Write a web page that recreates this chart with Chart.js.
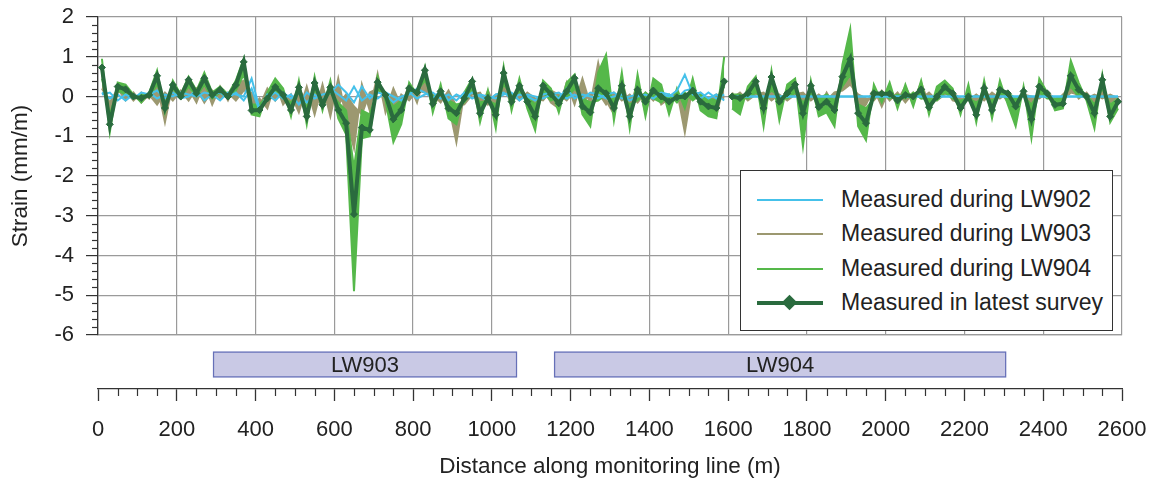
<!DOCTYPE html>
<html>
<head>
<meta charset="utf-8">
<script src="https://cdn.jsdelivr.net/npm/chart.js@4.4.1/dist/chart.umd.min.js"></script>
<style>
  body { margin: 0; background: #fff; }
  #wrap { position: relative; width: 1153px; height: 480px; font-family: "Liberation Sans", Arial, sans-serif; color: #222; }
  #main { position: absolute; left: 0; top: 0; }
  #panels { position: absolute; left: 0; top: 340px; }
  #legend { position: absolute; left: 740px; top: 170px; width: 373px; height: 161px; border: 1.5px solid #333; background: #fff; box-sizing: border-box; }
  .row { position: absolute; left: 0; width: 100%; height: 0; }
  .swatch { position: absolute; left: 16px; width: 66px; }
  .diamond { position: absolute; left: 43px; top: -6px; width: 11px; height: 11px; transform: rotate(45deg); }
  .txt { position: absolute; left: 100px; top: -15px; font-size: 23px; line-height: 28px; white-space: nowrap; }
</style>
</head>
<body>
<div id="wrap">
  <canvas id="main" width="1153" height="350"></canvas>
  <canvas id="panels" width="1153" height="140"></canvas>
  <div id="legend"></div>
</div>
<script>
// survey stations (m) - break between the two monitoring line sections at 1600
const distances = [10,30,50,70,90,110,130,150,170,190,210,230,250,270,290,310,330,350,370,390,
  410,430,450,470,490,510,530,550,570,590,610,630,650,670,690,710,730,750,770,790,
  810,830,850,870,890,910,930,950,970,990,1010,1030,1050,1070,1090,1110,1130,1150,1170,1190,
  1210,1230,1250,1270,1290,1310,1330,1350,1370,1390,1410,1430,1450,1470,1490,1510,1530,1550,1570,1590,
  1600,1610,1630,1650,1670,1690,1710,1730,1750,1770,1790,1810,1830,1850,1870,1890,1910,1930,1950,1970,
  1990,2010,2030,2050,2070,2090,2110,2130,2150,2170,2190,2210,2230,2250,2270,2290,2310,2330,2350,2370,
  2390,2410,2430,2450,2470,2490,2510,2530,2550,2570,2590];

// strain (mm/m)
const latest = [0.73,-0.70,0.25,0.18,0.00,-0.04,0.04,0.52,-0.29,0.29,
  0.00,0.42,0.08,0.46,0.04,0.17,0.00,0.29,0.87,-0.35,
  -0.34,-0.05,0.24,0.04,-0.34,0.23,-0.50,0.34,-0.21,0.23,
  -0.34,-0.67,-2.96,-0.78,-0.84,0.36,0.04,-0.57,-0.34,0.21,
  0.10,0.66,-0.18,0.13,-0.30,-0.42,-0.05,0.38,-0.42,-0.04,
  -0.46,0.59,-0.13,0.27,-0.13,-0.50,0.27,0.06,-0.17,0.13,
  0.46,-0.25,-0.40,0.21,0.08,-0.29,0.27,-0.50,0.17,-0.13,
  0.15,0.00,-0.13,-0.02,0.00,0.15,-0.13,-0.25,-0.29,0.38,
  null,0.00,-0.04,0.08,0.38,-0.29,0.49,-0.13,0.08,0.30,
  -0.42,0.27,-0.27,-0.13,-0.34,0.50,0.94,-0.42,-0.67,0.08,
  0.07,0.07,-0.10,0.04,0.00,0.18,-0.27,0.00,0.24,0.08,
  -0.29,0.00,-0.46,0.21,-0.34,0.17,0.08,-0.25,0.13,-0.57,
  0.25,0.08,-0.21,-0.18,0.52,0.17,0.00,-0.42,0.42,-0.50,
  -0.13];

const lw904a = [0.95,-0.90,0.35,0.30,0.05,-0.15,0.10,0.65,-0.40,0.40,
  0.05,0.50,0.15,0.60,0.10,0.25,0.05,0.40,0.95,-0.45,
  -0.50,0.10,0.45,0.20,-0.50,0.40,-0.70,0.50,-0.35,0.40,
  -0.55,-0.95,-4.90,-1.05,-1.00,0.50,-0.10,-1.15,-0.70,0.35,
  0.05,0.75,-0.40,0.30,-0.55,-0.70,0.10,0.45,-0.65,0.15,
  -0.80,0.75,-0.35,0.45,-0.30,-0.85,0.40,0.20,-0.40,0.35,
  0.55,-0.45,-0.75,0.60,1.05,-0.60,0.60,-0.80,0.55,-0.50,
  0.45,0.30,-0.45,0.20,-0.30,0.45,-0.35,-0.50,-0.55,1.00,
  null,-0.30,-0.45,0.25,0.50,-0.75,0.65,-0.60,0.30,0.45,
  -1.25,0.40,-0.50,-0.40,-0.75,0.80,1.70,-0.75,-1.10,0.30,
  -0.15,0.35,-0.30,0.30,-0.25,0.40,-0.45,0.25,0.40,0.20,
  -0.45,0.30,-0.65,0.40,-0.55,0.40,-0.20,-0.75,0.25,-1.05,
  0.45,0.10,-0.35,-0.30,0.90,0.35,-0.10,-0.80,0.55,-0.65,
  -0.30];

const lw904b = [0.45,-0.45,0.15,0.05,-0.05,0.05,0.00,0.30,-0.15,0.20,
  -0.05,0.25,0.00,0.30,-0.05,0.10,-0.05,0.15,0.55,-0.20,
  -0.20,0.00,0.10,-0.05,-0.15,0.10,-0.25,0.15,-0.10,0.10,
  -0.15,-0.35,-1.80,-0.35,-0.45,0.15,0.10,-0.25,-0.10,0.10,
  0.15,0.40,0.00,0.05,-0.10,-0.20,-0.15,0.15,-0.15,-0.10,
  -0.20,0.30,0.05,0.10,0.00,-0.20,0.10,-0.10,0.00,-0.05,
  0.20,-0.05,-0.15,-0.10,0.05,-0.05,0.00,-0.20,-0.10,0.10,
  -0.05,-0.15,0.05,-0.15,0.10,-0.10,0.05,-0.05,-0.10,0.25,
  null,0.05,0.05,-0.05,0.10,-0.05,0.15,0.00,-0.05,0.10,
  -0.15,0.05,-0.05,0.05,-0.10,0.25,0.55,-0.20,-0.30,-0.05,
  0.10,-0.05,0.05,-0.05,0.10,-0.05,-0.05,-0.10,0.10,-0.05,
  -0.10,-0.05,-0.15,0.00,-0.10,0.05,0.10,-0.05,0.00,-0.20,
  0.10,-0.05,-0.05,0.00,0.25,0.00,0.05,-0.20,0.20,-0.20,
  -0.05];

const lw903a = [0.55,-0.45,0.10,0.15,-0.10,0.10,-0.05,0.30,-0.65,0.35,
  0.05,0.20,-0.15,0.35,-0.20,0.25,-0.10,0.30,0.40,-0.25,
  -0.05,-0.30,0.35,-0.20,0.05,-0.40,0.25,-0.45,0.30,-0.50,
  0.45,-0.55,-1.30,0.30,-0.35,0.57,-0.40,0.20,-0.25,0.30,
  -0.15,0.55,-0.30,0.10,-0.20,-1.15,0.10,0.25,-0.35,0.15,
  -0.30,0.35,-0.25,0.30,-0.10,-0.40,0.20,-0.15,-0.30,0.35,
  -0.20,0.45,-0.20,0.84,-0.10,-0.45,0.40,-0.30,0.35,-0.40,
  0.30,-0.20,-0.05,0.15,-0.90,0.30,-0.20,-0.35,-0.50,0.35,
  null,0.10,-0.20,0.15,0.30,-0.15,0.25,-0.20,0.20,0.15,
  -0.20,0.20,-0.30,0.10,-0.25,0.55,0.60,-0.45,-0.20,0.20,
  -0.25,0.20,-0.10,0.25,-0.15,0.35,-0.20,0.10,0.25,-0.10,
  -0.15,0.10,-0.25,0.20,-0.10,0.15,-0.15,-0.10,0.10,-0.25,
  0.10,0.05,-0.15,0.05,0.25,-0.05,0.10,-0.15,0.20,-0.15,
  0.00];

const lw903b = [0.20,-0.15,0.20,-0.10,0.10,-0.15,0.05,-0.20,0.10,-0.10,
  0.15,-0.10,0.20,-0.15,0.15,-0.05,0.10,-0.10,0.15,0.10,
  -0.25,0.20,-0.10,0.15,-0.25,0.20,-0.15,0.10,-0.30,0.15,
  -0.20,0.05,-0.25,-0.45,0.10,0.20,0.10,-0.40,0.05,-0.10,
  0.15,0.10,0.05,-0.15,0.15,-0.25,-0.20,0.05,0.10,-0.20,
  0.05,0.10,0.05,-0.10,0.10,-0.05,-0.10,0.15,0.05,-0.10,
  0.15,-0.15,0.05,0.10,-0.20,0.10,-0.10,0.05,-0.15,0.10,
  -0.10,0.15,-0.10,0.05,-0.10,0.05,0.10,-0.10,0.05,-0.05,
  null,-0.05,0.10,-0.10,0.05,0.10,-0.10,0.05,-0.10,0.05,
  0.10,-0.10,0.05,-0.10,0.10,0.15,0.30,0.05,-0.05,-0.10,
  0.15,-0.10,0.10,-0.15,0.10,-0.05,0.10,-0.10,0.05,0.10,
  -0.05,-0.10,0.05,-0.10,0.10,-0.05,0.10,-0.10,0.05,0.00,
  -0.05,0.10,-0.05,-0.10,0.10,0.05,-0.05,0.05,-0.05,0.05,
  -0.05];

const lw902a = [0.10,-0.05,0.05,-0.10,0.05,-0.05,0.10,-0.05,0.05,0.00,
  0.10,0.05,0.00,0.10,0.05,-0.10,0.10,0.05,0.00,0.45,
  -0.30,-0.05,0.10,-0.05,0.05,-0.20,0.10,-0.05,0.05,0.10,
  0.30,0.10,-0.15,0.25,-0.05,0.10,0.05,-0.15,0.00,0.05,
  0.20,0.10,-0.05,0.15,-0.10,0.05,-0.05,0.10,0.00,-0.10,
  0.05,0.10,-0.05,0.05,0.00,-0.10,0.05,0.10,-0.05,0.20,
  -0.05,0.05,0.00,-0.05,0.05,0.10,-0.05,0.00,0.05,-0.10,
  0.10,0.05,0.00,0.15,0.55,0.05,0.10,-0.05,0.05,-0.10,
  null,0,0,0,0,0,0,0,0,0,
  0,0,0,0,0,0,0,0,0,0,
  0,0,0,0,0,0,0,0,0,0,
  0,0,0,0,0,0,0,0,0,0,
  0,0,0,0,0,0,0,0,0,0,
  0];

const lw902b = [0.05,0.10,-0.10,0.05,-0.05,0.10,0.05,0.15,-0.05,0.10,
  -0.05,0.00,0.15,-0.10,0.05,0.10,-0.05,0.10,-0.10,0.20,
  -0.35,0.05,-0.10,0.10,-0.05,0.10,-0.15,0.05,-0.10,0.20,
  0.05,-0.10,0.25,-0.10,0.05,-0.05,0.10,0.00,-0.10,0.10,
  -0.05,0.05,0.10,-0.05,0.05,-0.10,0.10,-0.05,0.05,0.00,
  -0.05,0.05,0.10,-0.10,0.05,0.00,-0.05,0.05,0.10,-0.05,
  0.05,-0.05,0.10,0.05,-0.05,0.00,0.05,-0.10,0.00,0.05,
  -0.05,0.10,0.05,-0.05,0.15,0.20,-0.05,0.10,-0.05,0.05,
  null,0,0,0,0,0,0,0,0,0,
  0,0,0,0,0,0,0,0,0,0,
  0,0,0,0,0,0,0,0,0,0,
  0,0,0,0,0,0,0,0,0,0,
  0,0,0,0,0,0,0,0,0,0,
  0];

// longwall panels (m along line)
const panelNames = ['LW903', 'LW904'];
const panelStart = [292, 1158];
const panelEnd = [1064, 2306];

const legendLabels = ['Measured during LW902', 'Measured during LW903', 'Measured during LW904', 'Measured in latest survey'];

const c902 = '#45c1ea';
const c903 = '#9c9870';
const c904 = '#55b84a';
const cLatest = '#2a6b3e';
const textColor = '#222';

Chart.defaults.font.family = '"Liberation Sans", Arial, sans-serif';
Chart.defaults.color = textColor;

const mk = vals => distances.map((d, i) => ({ x: d, y: vals[i] }));
const thin = (label, vals, color, fill) => ({
  label: label, data: mk(vals), borderColor: color, backgroundColor: color,
  borderWidth: 2, pointRadius: 0, fill: fill || false, tension: 0
});

// minor ticks on the strain axis
const yMinorTicks = {
  id: 'yMinorTicks',
  afterDraw(chart) {
    const s = chart.scales.y, ctx = chart.ctx;
    ctx.save();
    ctx.strokeStyle = '#333';
    ctx.lineWidth = 1.2;
    for (let i = 0; i <= 40; i++) {
      if (i % 5 === 0) continue;
      const py = Math.round(s.getPixelForValue(-6 + i * 0.2)) + 0.5;
      ctx.beginPath();
      ctx.moveTo(s.right - 6, py);
      ctx.lineTo(s.right, py);
      ctx.stroke();
    }
    ctx.restore();
  }
};

new Chart(document.getElementById('main'), {
  type: 'line',
  data: {
    datasets: [
      {
        label: legendLabels[3], data: mk(latest), borderColor: cLatest, backgroundColor: cLatest,
        borderWidth: 4, pointStyle: 'rectRot', pointRadius: 3.5, pointBorderWidth: 1,
        pointBackgroundColor: cLatest, pointBorderColor: cLatest, tension: 0
      },
      thin('LW902 survey A', lw902a, c902),
      thin('LW902 survey B', lw902b, c902),
      thin('LW904 survey A', lw904a, c904),
      thin('LW904 survey B', lw904b, c904, '-1'),
      thin('LW903 survey A', lw903a, c903),
      thin('LW903 survey B', lw903b, c903, '-1')
    ]
  },
  options: {
    responsive: false,
    animation: false,
    devicePixelRatio: 1,
    layout: { padding: { top: 17, right: 31, bottom: 15, left: 0 } },
    plugins: { legend: { display: false }, tooltip: { enabled: false } },
    scales: {
      x: {
        type: 'linear', min: 0, max: 2600,
        afterFit: s => { s.height = 0; s.paddingLeft = 0; s.paddingRight = 0; },
        ticks: { display: false, stepSize: 200 },
        grid: { color: '#9a9a9a', lineWidth: 1.2, drawTicks: false },
        border: { color: '#9a9a9a', width: 1.2 }
      },
      y: {
        min: -6, max: 2,
        afterFit: s => { s.width = 98; s.paddingTop = 0; s.paddingBottom = 0; },
        ticks: { stepSize: 1, padding: 12, font: { size: 22 }, color: textColor },
        grid: { color: '#9a9a9a', lineWidth: 1.2, tickLength: 12, tickColor: '#333', tickWidth: 1.2 },
        border: { color: '#333', width: 1.3 },
        title: { display: true, text: 'Strain (mm/m)', font: { size: 22.5 }, color: textColor, padding: { top: 7, bottom: 0 } }
      }
    }
  },
  plugins: [yMinorTicks]
});

// minor ticks + panel names for the lower chart
const panelExtras = {
  id: 'panelExtras',
  afterDraw(chart) {
    const s = chart.scales.x, ctx = chart.ctx;
    ctx.save();
    ctx.strokeStyle = '#333';
    ctx.lineWidth = 1.2;
    for (let i = 0; i <= 52; i++) {
      if (i % 4 === 0) continue;
      const px = Math.round(s.getPixelForValue(i * 50)) + 0.5;
      ctx.beginPath();
      ctx.moveTo(px, s.top);
      ctx.lineTo(px, s.top + 7);
      ctx.stroke();
    }
    ctx.fillStyle = textColor;
    ctx.font = '22px "Liberation Sans", Arial, sans-serif';
    ctx.textAlign = 'center';
    ctx.textBaseline = 'middle';
    chart.data.datasets.forEach((ds, i) => {
      const el = chart.getDatasetMeta(i).data[0];
      ctx.fillText(ds.label, (el.x + el.base) / 2, el.y + 1);
    });
    ctx.restore();
  }
};

new Chart(document.getElementById('panels'), {
  type: 'bar',
  data: {
    labels: ['panels'],
    datasets: panelNames.map((n, i) => ({
      label: n,
      data: [[panelStart[i], panelEnd[i]]],
      backgroundColor: '#c9c9e5',
      borderColor: '#6670b8',
      borderWidth: 1.5,
      borderSkipped: false,
      barThickness: 26,
      grouped: false
    }))
  },
  options: {
    indexAxis: 'y',
    responsive: false,
    animation: false,
    devicePixelRatio: 1,
    layout: { padding: { top: 0, right: 31, bottom: 0, left: 98 } },
    plugins: { legend: { display: false }, tooltip: { enabled: false } },
    scales: {
      x: {
        type: 'linear', min: 0, max: 2600,
        afterFit: s => { s.height = 91; s.paddingLeft = 0; s.paddingRight = 0; },
        ticks: { stepSize: 200, padding: 16, font: { size: 22 }, color: textColor, maxRotation: 0, autoSkip: false, callback: v => String(v) },
        grid: { drawOnChartArea: false, tickLength: 12, tickColor: '#333', tickWidth: 1.3 },
        border: { color: '#333', width: 1.3 },
        title: { display: true, text: 'Distance along monitoring line (m)', font: { size: 22.5 }, color: textColor, padding: { top: 6, bottom: 0 } }
      },
      y: { display: false }
    }
  },
  plugins: [panelExtras]
});

// legend box inside the plot
const legendColors = [c902, c903, c904, cLatest];
const legendRows = [29, 63, 98, 132];
const legendEl = document.getElementById('legend');
legendLabels.forEach((t, i) => {
  const row = document.createElement('div');
  row.className = 'row';
  row.style.top = legendRows[i] + 'px';
  const w = i === 3 ? 4 : 2;
  row.innerHTML = '<div class="swatch" style="top:' + (-w / 2) + 'px;height:' + w + 'px;background:' + legendColors[i] + '"></div>' +
    (i === 3 ? '<div class="diamond" style="background:' + legendColors[i] + '"></div>' : '') +
    '<div class="txt">' + t + '</div>';
  legendEl.appendChild(row);
});
</script>
</body>
</html>
